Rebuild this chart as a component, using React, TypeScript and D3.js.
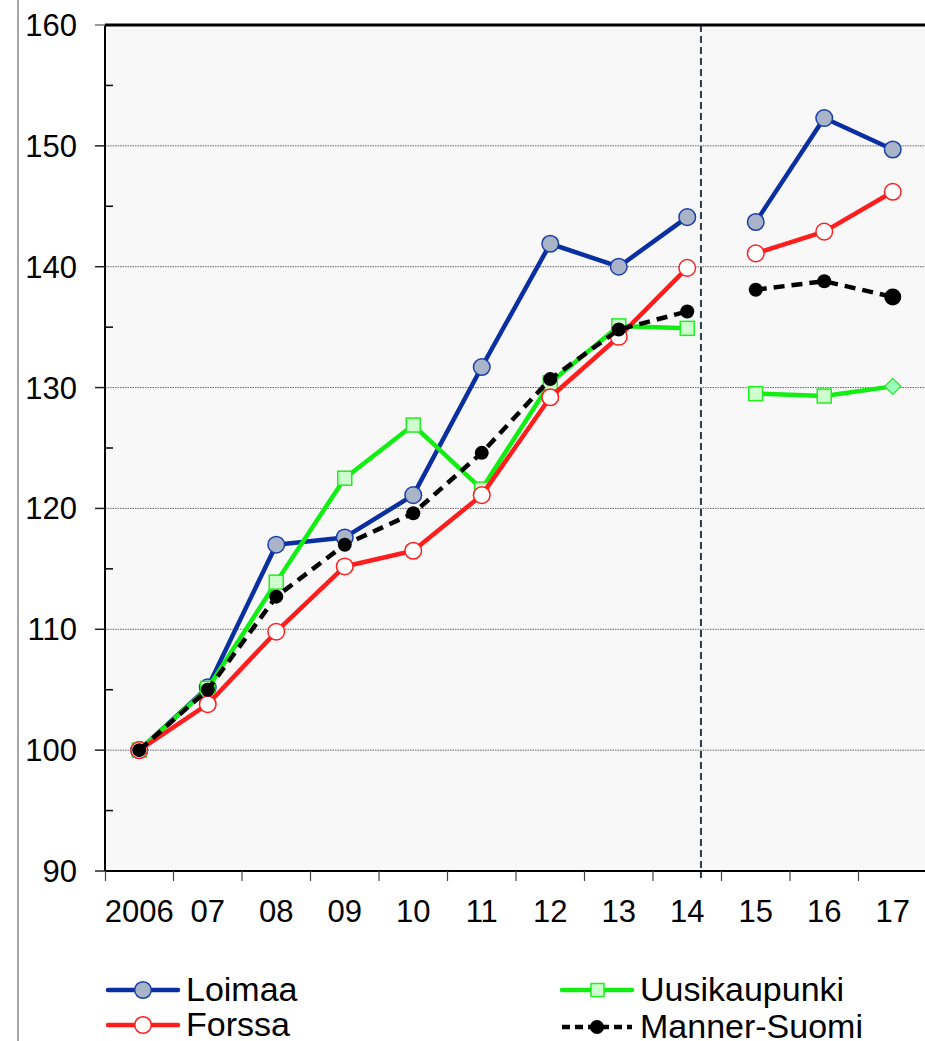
import React from "react";
import * as d3 from "d3";

const categories = ["2006", "07", "08", "09", "10", "11", "12", "13", "14", "15", "16", "17"];
const loimaa = [100, 105.2, 117.0, 117.6, 121.1, 131.7, 141.9, 140.0, 144.1, 143.7, 152.3, 149.7];
const uusikaupunki = [100, 105.1, 113.9, 122.5, 126.9, 121.6, 130.4, 135.1, 134.9, 129.5, 129.3, 130.1];
const forssa = [100, 103.8, 109.8, 115.2, 116.5, 121.1, 129.2, 134.2, 139.9, 141.1, 142.9, 146.2];
const mannerSuomi = [100, 105.0, 112.7, 117.0, 119.6, 124.6, 130.7, 134.8, 136.3, 138.1, 138.8, 137.5];
const yTicks = [90, 100, 110, 120, 130, 140, 150, 160];
const gridValues = [100, 110, 120, 130, 140, 150];
const minorTicks = [95, 105, 115, 125, 135, 145, 155];
const breakAfter = "14";

const W = 925;
const H = 1041;
const left = 105;
const right = 927;
const top = 25;
const bottom = 871;
const FONT = "'Liberation Sans', Arial, sans-serif";

type Series = {
  name: string;
  values: number[];
  color: string;
  dash?: string;
  marker: "circleGray" | "circleWhite" | "square" | "dot";
};

const series: Series[] = [
  { name: "Loimaa", values: loimaa, color: "#0a2fa0", marker: "circleGray" },
  { name: "Uusikaupunki", values: uusikaupunki, color: "#11ee11", marker: "square" },
  { name: "Forssa", values: forssa, color: "#ff1e1e", marker: "circleWhite" },
  { name: "Manner-Suomi", values: mannerSuomi, color: "#000000", dash: "11,7", marker: "dot" },
];

function Marker({ kind, x, y, last }: { kind: Series["marker"]; x: number; y: number; last?: boolean }) {
  if (kind === "circleGray")
    return <circle cx={x} cy={y} r={8.3} fill="#a9b4c8" stroke="#1a3fa8" strokeWidth={1.5} />;
  if (kind === "circleWhite")
    return <circle cx={x} cy={y} r={8.3} fill="#ffffff" stroke="#ff1e1e" strokeWidth={1.5} />;
  if (kind === "square") {
    if (last)
      return (
        <path
          d={`M${x},${y - 8} L${x + 8},${y} L${x},${y + 8} L${x - 8},${y} Z`}
          fill="#99ffbb"
          stroke="#33dd33"
          strokeWidth={1.2}
        />
      );
    return <rect x={x - 7} y={y - 7} width={14} height={14} fill="#ccffcc" stroke="#22ee22" strokeWidth={1.5} />;
  }
  return <circle cx={x} cy={y} r={last ? 8.5 : 7} fill="#000" />;
}

export default function App() {
  const x = d3.scaleBand<string>().domain(categories).range([left, right]);
  const y = d3.scaleLinear().domain([90, 160]).range([bottom, top]);
  const cx = (c: string) => (x(c) as number) + x.bandwidth() / 2;
  const line = d3
    .line<[string, number]>()
    .x((d) => cx(d[0]))
    .y((d) => y(d[1]));
  const splitIdx = categories.indexOf(breakAfter) + 1;
  const dividerX = cx(breakAfter) + x.bandwidth() * 0.2;

  const legendItems = [
    { s: series[0], lx: 108, ly: 990 },
    { s: series[1], lx: 562, ly: 990 },
    { s: series[2], lx: 108, ly: 1025 },
    { s: series[3], lx: 562, ly: 1027 },
  ];

  return (
    <svg
      width={W}
      height={H}
      style={{ position: "absolute", left: 0, top: 0, display: "block", background: "#fff" }}
      fontFamily={FONT}
    >
      <line x1={18} x2={18} y1={0} y2={H} stroke="#8a8a8a" strokeWidth={1.5} />
      <rect x={left} y={top} width={right - left} height={bottom - top} fill="#f8f8f8" />
      {gridValues.map((v) => (
        <line key={v} x1={left} x2={right} y1={y(v)} y2={y(v)} stroke="#666" strokeWidth={1} strokeDasharray="1.5,1" />
      ))}
      {/* divider */}
      <line x1={dividerX} x2={dividerX} y1={top} y2={878} stroke="#2f3a4a" strokeWidth={2} strokeDasharray="7,4" />
      {/* axes */}
      <line x1={left} x2={right} y1={top} y2={top} stroke="#000" strokeWidth={3} />
      <line x1={left} x2={left} y1={top} y2={bottom} stroke="#000" strokeWidth={2} />
      <line x1={left} x2={right} y1={bottom} y2={bottom} stroke="#000" strokeWidth={2} />
      {yTicks.map((v) => (
        <g key={v}>
          <line x1={95} x2={left} y1={y(v)} y2={y(v)} stroke={v === 160 ? "#777" : "#222"} strokeWidth={1.5} />
          <text x={77} y={y(v) + 11} textAnchor="end" fontSize={31}>
            {v}
          </text>
        </g>
      ))}
      {minorTicks.map((v) => (
        <line key={v} x1={left} x2={left + 8} y1={y(v)} y2={y(v)} stroke="#000" strokeWidth={1.5} />
      ))}
      {categories.map((c, i) => (
        <g key={c}>
          <line
            x1={i === 0 ? left + 0.5 : (x(c) as number)}
            x2={i === 0 ? left + 0.5 : (x(c) as number)}
            y1={bottom}
            y2={bottom + 10}
            stroke="#444"
            strokeWidth={1.2}
          />
          <text x={cx(c)} y={922} textAnchor="middle" fontSize={31}>
            {c}
          </text>
        </g>
      ))}
      {/* series */}
      {series.map((s) => {
        const pts: [string, number][] = categories.map((c, i) => [c, s.values[i]]);
        const segs = [pts.slice(0, splitIdx), pts.slice(splitIdx)];
        return (
          <g key={s.name}>
            {segs.map((seg, k) => (
              <path
                key={k}
                d={line(seg) || ""}
                fill="none"
                stroke={s.color}
                strokeWidth={4.5}
                strokeDasharray={s.dash}
                strokeLinejoin="round"
              />
            ))}
            {pts.map((p, i) => (
              <Marker key={i} kind={s.marker} x={cx(p[0])} y={y(p[1])} last={i === pts.length - 1} />
            ))}
          </g>
        );
      })}
      {/* legend */}
      {legendItems.map(({ s, lx, ly }) => (
        <g key={s.name}>
          <line
            x1={lx}
            x2={lx + 70}
            y1={ly}
            y2={ly}
            stroke={s.color}
            strokeWidth={4.5}
            strokeDasharray={s.dash ? "8,5" : undefined}
            strokeLinecap={s.dash ? "butt" : "round"}
          />
          {s.marker === "square" ? (
            <rect x={lx + 29} y={ly - 6.5} width={13} height={13} fill="#ccffcc" stroke="#22ee22" strokeWidth={1.5} />
          ) : (
            <Marker kind={s.marker} x={lx + 35} y={ly} />
          )}
          <text x={lx + 78} y={ly + 11} fontSize={34}>
            {s.name}
          </text>
        </g>
      ))}
    </svg>
  );
}
